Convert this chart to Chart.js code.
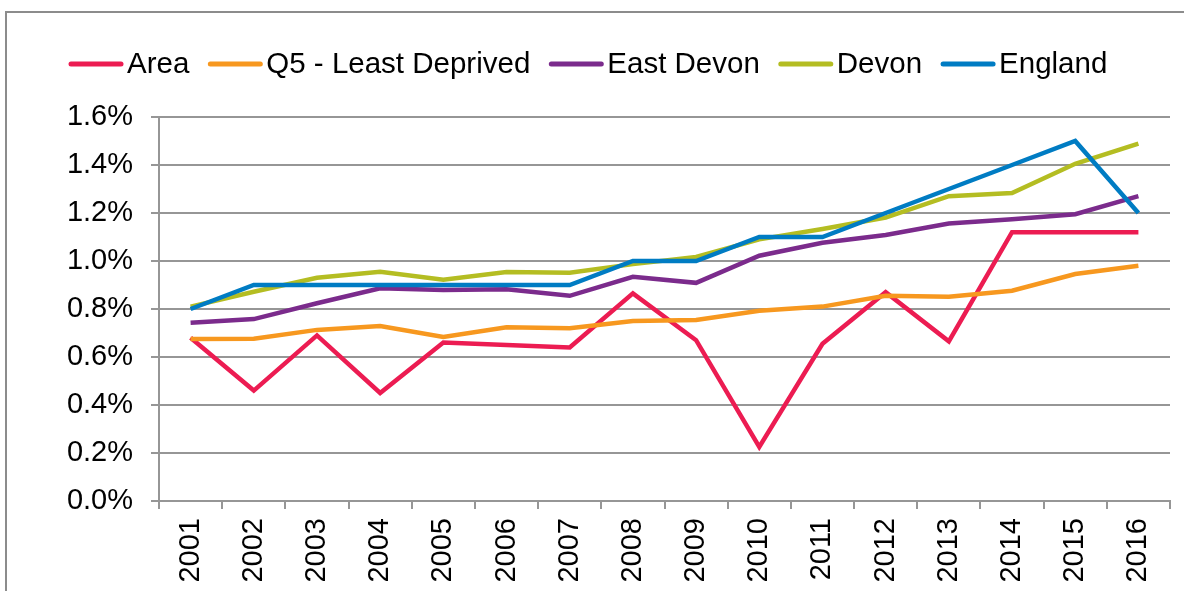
<!DOCTYPE html>
<html>
<head>
<meta charset="utf-8">
<script src="https://cdn.jsdelivr.net/npm/chart.js@4/dist/chart.umd.min.js"></script>
<style>
  html, body { margin: 0; padding: 0; background: #fff; }
  #wrap { width: 1184px; height: 591px; position: relative; }
</style>
</head>
<body>
<div id="wrap"><canvas id="rateChart"></canvas></div>
<script>
// Rates by year, in percent
const years = ['2001', '2002', '2003', '2004', '2005', '2006', '2007', '2008',
               '2009', '2010', '2011', '2012', '2013', '2014', '2015', '2016'];
const areaRates = [0.68, 0.46, 0.69, 0.45, 0.66, 0.65, 0.64, 0.865, 0.67, 0.225, 0.655, 0.87, 0.665, 1.12, 1.12, 1.12];
const q5Rates = [0.675, 0.676, 0.713, 0.729, 0.683, 0.724, 0.72, 0.75, 0.754, 0.793, 0.81, 0.855, 0.851, 0.876, 0.946, 0.98];
const eastDevonRates = [0.743, 0.758, 0.824, 0.886, 0.879, 0.882, 0.855, 0.934, 0.909, 1.022, 1.076, 1.108, 1.156, 1.174, 1.195, 1.27];
const devonRates = [0.81, 0.872, 0.93, 0.955, 0.922, 0.954, 0.951, 0.987, 1.017, 1.09, 1.133, 1.181, 1.27, 1.283, 1.405, 1.489];
const englandRates = [0.8, 0.9, 0.9, 0.9, 0.9, 0.9, 0.9, 1.0, 1.0, 1.1, 1.1, 1.2, 1.3, 1.4, 1.5, 1.2];

const seriesNames = ['Area', 'Q5 - Least Deprived', 'East Devon', 'Devon', 'England'];
const seriesColors = ['#EC1C52', '#F7981F', '#7B2B8C', '#B4BD22', '#007CC3'];
const seriesValues = [areaRates, q5Rates, eastDevonRates, devonRates, englandRates];

const yTicks = [0, 0.2, 0.4, 0.6, 0.8, 1.0, 1.2, 1.4, 1.6];

const FONT = "'Liberation Sans', Arial, sans-serif";
const GRID = '#969696';

// Outer frame (left and top edges only are visible)
const framePlugin = {
    id: 'frame',
    beforeDraw(chart) {
        const ctx = chart.ctx;
        ctx.save();
        ctx.strokeStyle = '#8c8c8c';
        ctx.lineWidth = 2;
        ctx.beginPath();
        ctx.moveTo(6, chart.height);
        ctx.lineTo(6, 12);
        ctx.lineTo(chart.width, 12);
        ctx.stroke();
        ctx.restore();
    }
};

// Legend row: short line swatch followed by the series name
const lineLegendPlugin = {
    id: 'lineLegend',
    afterDraw(chart) {
        const ctx = chart.ctx;
        ctx.save();
        ctx.font = `29.5px ${FONT}`;
        ctx.textBaseline = 'middle';
        ctx.textAlign = 'left';
        let x = 69;
        const y = 64;
        chart.data.datasets.forEach((ds) => {
            ctx.strokeStyle = ds.borderColor;
            ctx.lineWidth = 5;
            ctx.lineCap = 'round';
            ctx.beginPath();
            ctx.moveTo(x + 2, y);
            ctx.lineTo(x + 52, y);
            ctx.stroke();
            x += 58;
            ctx.fillStyle = '#000';
            ctx.fillText(ds.label, x, y + 1);
            x += ctx.measureText(ds.label).width + 19;
        });
        ctx.restore();
    }
};

const datasets = seriesNames.map((name, i) => ({
    label: name,
    data: seriesValues[i],
    borderColor: seriesColors[i],
    backgroundColor: seriesColors[i],
    borderWidth: 4.5,
    pointRadius: 0,
    tension: 0,
    // later series sit on top
    order: seriesNames.length - i,
}));

new Chart(document.getElementById('rateChart'), {
    type: 'line',
    data: { labels: years, datasets },
    options: {
        responsive: true,
        maintainAspectRatio: false,
        animation: false,
        layout: { padding: { top: 117, right: 14, left: 0, bottom: 0 } },
        plugins: {
            legend: { display: false },
            tooltip: { enabled: false },
        },
        scales: {
            x: {
                offset: true,
                grid: {
                    offset: true,
                    drawOnChartArea: false,
                    drawTicks: true,
                    tickLength: 8,
                    color: GRID,
                    lineWidth: 2,
                },
                border: { color: GRID, width: 2 },
                ticks: {
                    color: '#000',
                    font: { family: FONT, size: 29 },
                    maxRotation: 90,
                    minRotation: 90,
                    padding: 9,
                    autoSkip: false,
                },
                afterFit(scale) { scale.height = 90; },
            },
            y: {
                min: 0,
                max: 1.6,
                afterBuildTicks(scale) {
                    scale.ticks = yTicks.map((v) => ({ value: v }));
                },
                grid: {
                    color: GRID,
                    lineWidth: 2,
                    drawTicks: true,
                    tickLength: 8,
                },
                border: { color: GRID, width: 2 },
                ticks: {
                    color: '#000',
                    font: { family: FONT, size: 29 },
                    padding: 18,
                    callback: (v) => Number(v).toFixed(1) + '%',
                },
                afterFit(scale) { scale.width = 159; },
            },
        },
    },
    plugins: [framePlugin, lineLegendPlugin],
});
</script>
</body>
</html>
